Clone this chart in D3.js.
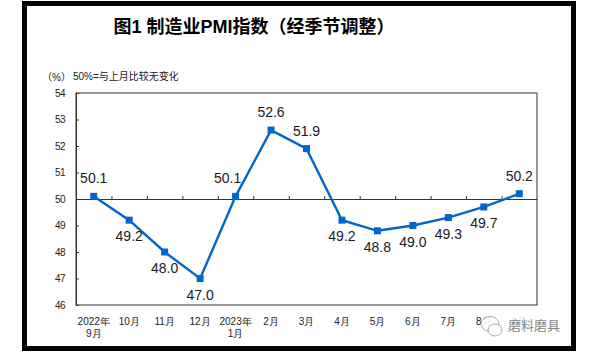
<!DOCTYPE html>
<html>
<head>
<meta charset="utf-8">
<script src="https://cdn.jsdelivr.net/npm/d3@7"></script>
<style>
body { margin: 0; background: #fff; }
svg { display: block; font-family: "Liberation Sans", Arial, "Noto Sans CJK SC", sans-serif; }
</style>
</head>
<body>
<div id="chart"></div>
<script>
// months, two-line tick labels
var months = ["2022-09","2022-10","2022-11","2022-12","2023-01","2023-02","2023-03","2023-04","2023-05","2023-06","2023-07","2023-08","2023-09"];
var labelLine1 = ["2022年","10月","11月","12月","2023年","2月","3月","4月","5月","6月","7月","8月","9月"];
var labelLine2 = ["9月","","","","1月","","","","","","","",""];
var pmi = [50.1, 49.2, 48.0, 47.0, 50.1, 52.6, 51.9, 49.2, 48.8, 49.0, 49.3, 49.7, 50.2];
var yTicks = [46, 47, 48, 49, 50, 51, 52, 53, 54];

var w = 602, h = 361;
var pLeft = 76, pRight = 537, pTop = 93, pBottom = 305;

var svg = d3.select("#chart").append("svg")
	.attr("width", w)
	.attr("height", h);

// black frame round the whole picture
svg.append("rect")
	.attr("x", 24.5).attr("y", 3.5)
	.attr("width", 549).attr("height", 345)
	.attr("fill", "none")
	.attr("stroke", "#000")
	.attr("stroke-width", 5);

svg.append("text")
	.attr("x", 254).attr("y", 33)
	.attr("text-anchor", "middle")
	.attr("font-size", 18)
	.attr("font-weight", "bold")
	.attr("fill", "#000")
	.text("图1 制造业PMI指数（经季节调整）");

svg.append("text")
	.attr("x", 42).attr("y", 81)
	.attr("font-size", 10)
	.attr("fill", "#222")
	.text("（%）");
svg.append("text")
	.attr("x", 73).attr("y", 80)
	.attr("font-size", 10)
	.attr("fill", "#222")
	.text("50%=与上月比较无变化");

var x = d3.scaleBand().domain(months).range([pLeft, pRight]).padding(0);
var xi = d3.scaleLinear().domain([0, months.length]).range([pLeft, pRight]);
var y = d3.scaleLinear().domain([46, 54]).range([pBottom, pTop]);

// plot border
svg.append("rect")
	.attr("x", pLeft).attr("y", pTop)
	.attr("width", pRight - pLeft).attr("height", pBottom - pTop)
	.attr("fill", "none")
	.attr("stroke", "#333")
	.attr("stroke-width", 1);

// y axis, ticks inward
var yAxis = svg.append("g")
	.attr("transform", "translate(" + pLeft + ",0)")
	.call(d3.axisLeft(y).tickValues(yTicks).tickSizeInner(-3).tickSizeOuter(0).tickPadding(11).tickFormat(d3.format("d")));
yAxis.select(".domain").attr("stroke", "#333");
yAxis.selectAll(".tick line").attr("stroke", "#333");
yAxis.selectAll(".tick text")
	.attr("font-size", 10)
	.attr("letter-spacing", -0.5)
	.attr("fill", "#222")
	.attr("font-family", "Liberation Sans, Arial, sans-serif");

// category axis crossing at 50, ticks between months pointing up
var midAxis = svg.append("g")
	.attr("transform", "translate(0," + y(50) + ")")
	.call(d3.axisTop(xi).tickValues(d3.range(1, months.length)).tickSizeInner(3).tickSizeOuter(0).tickFormat(""));
midAxis.select(".domain").attr("stroke", "#333").attr("stroke-width", 1.2);
midAxis.selectAll(".tick line").attr("stroke", "#333");

// month labels under the plot
var xAxis = svg.append("g")
	.attr("transform", "translate(0," + pBottom + ")")
	.call(d3.axisBottom(x).tickSize(0).tickFormat(""));
xAxis.select(".domain").remove();
xAxis.selectAll(".tick").each(function(d, i) {
	var t = d3.select(this).append("text")
		.attr("fill", "#222")
		.attr("font-size", 10)
		.attr("text-anchor", "middle");
	t.append("tspan").attr("x", 0).attr("y", 20).text(labelLine1[i]);
	if (labelLine2[i]) t.append("tspan").attr("x", 0).attr("y", 32).text(labelLine2[i]);
});

// series
var line = d3.line()
	.x(function(d, i) { return x(months[i]) + x.bandwidth() / 2; })
	.y(function(d) { return y(d); });

svg.append("path")
	.datum(pmi)
	.attr("d", line)
	.attr("fill", "none")
	.attr("stroke", "#0066cc")
	.attr("stroke-width", 2.4);

svg.selectAll("rect.pt")
	.data(pmi)
	.enter()
		.append("rect")
		.attr("class", "pt")
		.attr("x", function(d, i) { return x(months[i]) + x.bandwidth() / 2 - 3.5; })
		.attr("y", function(d) { return y(d) - 3.5; })
		.attr("width", 7)
		.attr("height", 7)
		.attr("fill", "#0066cc");

svg.selectAll("text.val")
	.data(pmi)
	.enter()
		.append("text")
		.attr("class", "val")
		.attr("x", function(d, i) {
			var cx = x(months[i]) + x.bandwidth() / 2;
			if (i == 4) cx -= 8;
			return cx;
		})
		.attr("y", function(d) { return d >= 50 ? y(d) - 13 : y(d) + 21; })
		.attr("text-anchor", "middle")
		.attr("font-size", 14)
		.attr("fill", "#1a1a1a")
		.text(function(d) { return d3.format(".1f")(d); });

// watermark over the last labels
var wm = svg.append("g").attr("transform", "translate(490,324)");
wm.append("ellipse").attr("cx", 0).attr("cy", 0).attr("rx", 9).attr("ry", 7.5)
	.attr("fill", "#fff").attr("fill-opacity", 0.9).attr("stroke", "#aaa").attr("stroke-width", 1);
wm.append("ellipse").attr("cx", 5).attr("cy", 6).attr("rx", 7).attr("ry", 6)
	.attr("fill", "#fff").attr("fill-opacity", 0.9).attr("stroke", "#aaa").attr("stroke-width", 1);
svg.append("rect").attr("x", 505).attr("y", 313).attr("width", 56).attr("height", 20).attr("fill", "#fff").attr("fill-opacity", 0.85);
svg.append("text")
	.attr("x", 508).attr("y", 330)
	.attr("font-size", 13)
	.attr("fill", "#888")
	.text("磨料磨具");
</script>
</body>
</html>
